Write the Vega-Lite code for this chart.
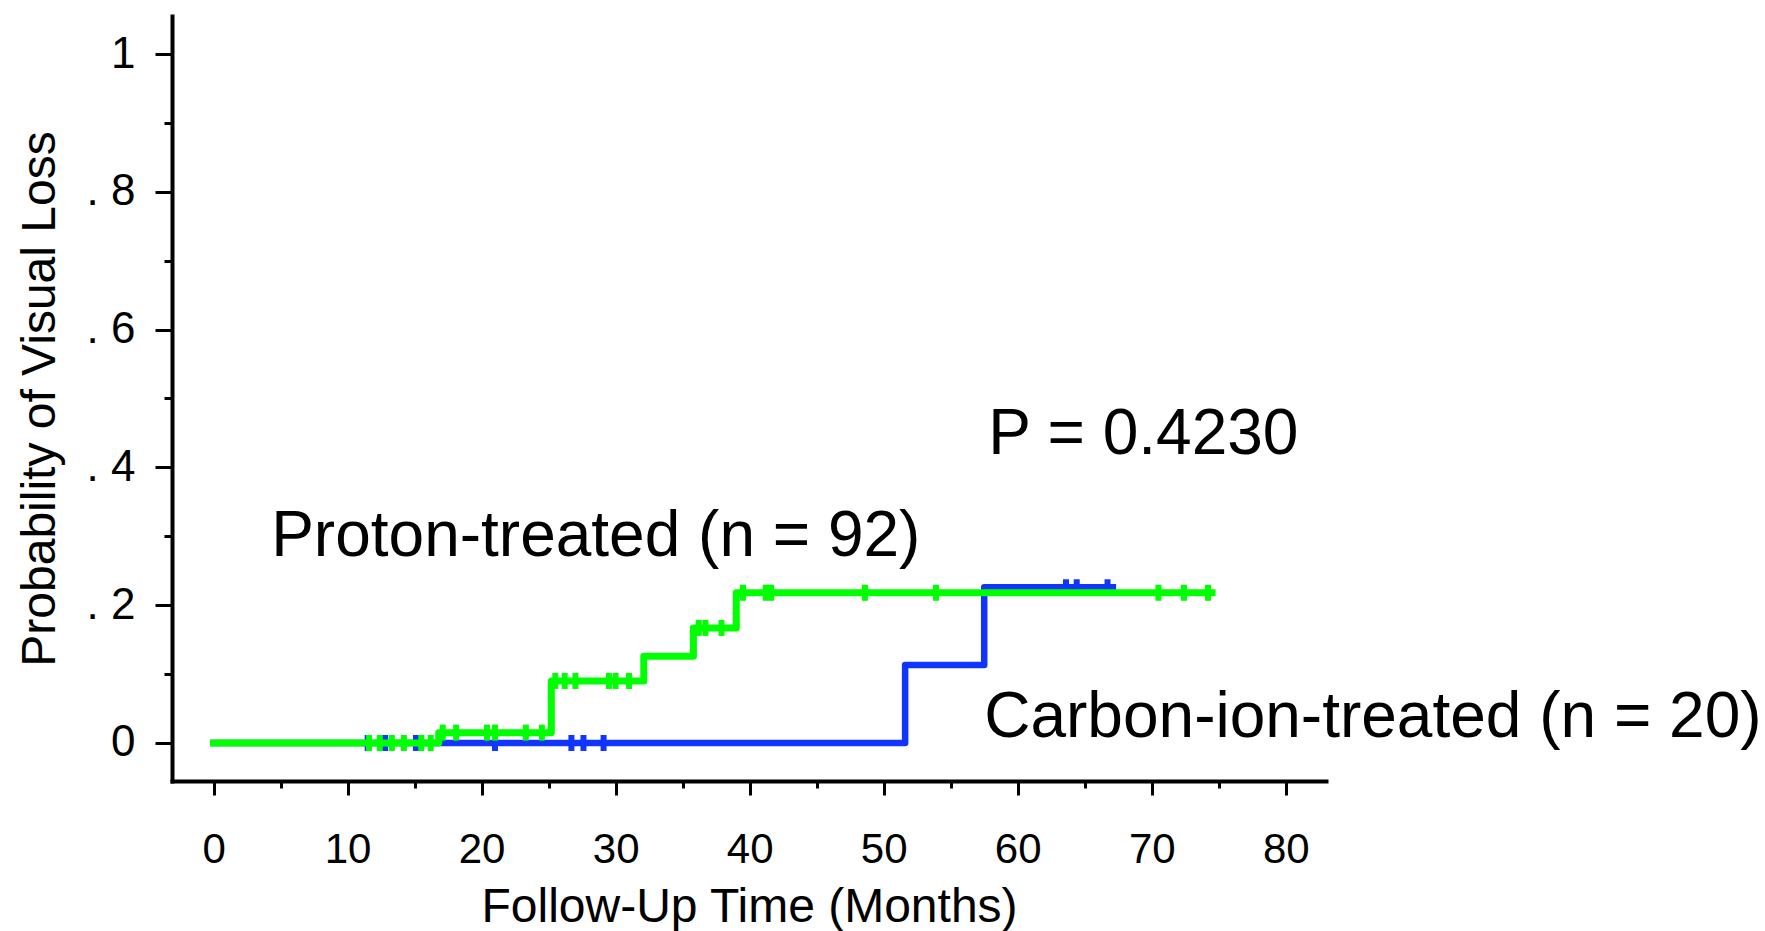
{
  "$schema": "https://vega.github.io/schema/vega-lite/v6.json",
  "autosize": "none",
  "width": 1154,
  "height": 765,
  "padding": {"left": 172, "top": 16, "right": 439, "bottom": 150},
  "background": "white",
  "config": {"view": {"stroke": null}},
  "datasets": {
    "steps": [
      {"group": "Carbon-ion", "t": 0, "p": 0},
      {"group": "Carbon-ion", "t": 51.6, "p": 0.113},
      {"group": "Carbon-ion", "t": 57.5, "p": 0.226},
      {"group": "Carbon-ion", "t": 67.1, "p": 0.226},
      {"group": "Proton", "t": 0, "p": 0},
      {"group": "Proton", "t": 16.8, "p": 0.015},
      {"group": "Proton", "t": 25.2, "p": 0.09},
      {"group": "Proton", "t": 32.1, "p": 0.126},
      {"group": "Proton", "t": 35.8, "p": 0.167},
      {"group": "Proton", "t": 39.0, "p": 0.218},
      {"group": "Proton", "t": 74.5, "p": 0.218}
    ],
    "censors": [
      {"group": "Carbon-ion", "t": 11.5, "p": 0},
      {"group": "Carbon-ion", "t": 12.8, "p": 0},
      {"group": "Carbon-ion", "t": 15.1, "p": 0},
      {"group": "Carbon-ion", "t": 21.0, "p": 0},
      {"group": "Carbon-ion", "t": 26.7, "p": 0},
      {"group": "Carbon-ion", "t": 27.6, "p": 0},
      {"group": "Carbon-ion", "t": 29.1, "p": 0},
      {"group": "Carbon-ion", "t": 63.6, "p": 0.226},
      {"group": "Carbon-ion", "t": 64.4, "p": 0.226},
      {"group": "Carbon-ion", "t": 66.7, "p": 0.226},
      {"group": "Proton", "t": 11.6, "p": 0},
      {"group": "Proton", "t": 12.4, "p": 0},
      {"group": "Proton", "t": 13.3, "p": 0},
      {"group": "Proton", "t": 14.2, "p": 0},
      {"group": "Proton", "t": 15.5, "p": 0},
      {"group": "Proton", "t": 16.2, "p": 0},
      {"group": "Proton", "t": 17.1, "p": 0.015},
      {"group": "Proton", "t": 18.1, "p": 0.015},
      {"group": "Proton", "t": 20.4, "p": 0.015},
      {"group": "Proton", "t": 21.0, "p": 0.015},
      {"group": "Proton", "t": 23.3, "p": 0.015},
      {"group": "Proton", "t": 24.5, "p": 0.015},
      {"group": "Proton", "t": 25.5, "p": 0.09},
      {"group": "Proton", "t": 26.2, "p": 0.09},
      {"group": "Proton", "t": 27.0, "p": 0.09},
      {"group": "Proton", "t": 29.5, "p": 0.09},
      {"group": "Proton", "t": 30.0, "p": 0.09},
      {"group": "Proton", "t": 31.0, "p": 0.09},
      {"group": "Proton", "t": 36.2, "p": 0.167},
      {"group": "Proton", "t": 36.7, "p": 0.167},
      {"group": "Proton", "t": 37.9, "p": 0.167},
      {"group": "Proton", "t": 39.5, "p": 0.218},
      {"group": "Proton", "t": 41.2, "p": 0.218},
      {"group": "Proton", "t": 41.6, "p": 0.218},
      {"group": "Proton", "t": 48.6, "p": 0.218},
      {"group": "Proton", "t": 53.9, "p": 0.218},
      {"group": "Proton", "t": 70.5, "p": 0.218},
      {"group": "Proton", "t": 72.4, "p": 0.218},
      {"group": "Proton", "t": 74.2, "p": 0.218}
    ],
    "notes": [
      {"label": "P = 0.4230", "x": 57.8, "y": 0.419},
      {"label": "Proton-treated (n = 92)", "x": 4.3, "y": 0.272},
      {"label": "Carbon-ion-treated (n = 20)", "x": 57.5, "y": 0.009}
    ]
  },
  "layer": [
    {
      "data": {"name": "steps"},
      "transform": [{"filter": "datum.group === 'Carbon-ion'"}],
      "mark": {"type": "line", "interpolate": "step-after", "strokeWidth": 6.5, "strokeJoin": "round", "strokeCap": "square", "color": "#1234FF"},
      "encoding": {
        "x": {
          "field": "t", "type": "quantitative",
          "scale": {"domain": [-3.1, 83], "nice": false, "zero": false},
          "axis": {
            "title": "Follow-Up Time (Months)",
            "values": [0, 5, 10, 15, 20, 25, 30, 35, 40, 45, 50, 55, 60, 65, 70, 75, 80],
            "labelExpr": "datum.value % 10 === 0 ? datum.label : ''",
            "grid": false,
            "domainWidth": 4, "domainColor": "black", "domainCap": "square",
            "tickColor": "black", "tickWidth": 3,
            "tickSize": {"condition": {"test": "datum.value % 10 === 0", "value": 14}, "value": 7},
            "labelFont": "Liberation Sans, Arial, sans-serif",
            "labelFontSize": 42, "labelColor": "black", "labelPadding": 34,
            "labelFlush": false, "labelOverlap": false,
            "titleFont": "Liberation Sans, Arial, sans-serif",
            "titleFontSize": 48, "titleFontWeight": "normal", "titleColor": "black", "titlePadding": 13
          }
        },
        "y": {
          "field": "p", "type": "quantitative",
          "scale": {"domain": [-0.0552, 1.0552], "nice": false, "zero": false},
          "axis": {
            "title": "Probability of Visual Loss",
            "values": [0, 0.1, 0.2, 0.3, 0.4, 0.5, 0.6, 0.7, 0.8, 0.9, 1],
            "labelExpr": "datum.value === 0 ? '0' : datum.value === 1 ? '1' : (round(datum.value*10) % 2 === 0 ? '. ' + round(datum.value*10) : '')",
            "grid": false,
            "domainWidth": 4, "domainColor": "black", "domainCap": "square",
            "tickColor": "black", "tickWidth": 3,
            "tickSize": {"condition": {"test": "round(datum.value*10) % 2 === 0", "value": 17}, "value": 8},
            "labelFont": "Liberation Sans, Arial, sans-serif",
            "labelFontSize": 44, "labelColor": "black", "labelPadding": 20,
            "labelFlush": false, "labelOverlap": false,
            "titleFont": "Liberation Sans, Arial, sans-serif",
            "titleFontSize": 48, "titleFontWeight": "normal", "titleColor": "black", "titlePadding": 22
          }
        }
      }
    },
    {
      "data": {"name": "censors"},
      "transform": [{"filter": "datum.group === 'Carbon-ion'"}],
      "mark": {"type": "tick", "orient": "vertical", "size": 16, "thickness": 6, "color": "#1234FF", "opacity": 1},
      "encoding": {
        "x": {"field": "t", "type": "quantitative"},
        "y": {"field": "p", "type": "quantitative"}
      }
    },
    {
      "data": {"name": "steps"},
      "transform": [{"filter": "datum.group === 'Proton'"}],
      "mark": {"type": "line", "interpolate": "step-after", "strokeWidth": 7, "strokeJoin": "round", "strokeCap": "square", "color": "#00FF00"},
      "encoding": {
        "x": {"field": "t", "type": "quantitative"},
        "y": {"field": "p", "type": "quantitative"}
      }
    },
    {
      "data": {"name": "censors"},
      "transform": [{"filter": "datum.group === 'Proton'"}],
      "mark": {"type": "tick", "orient": "vertical", "size": 16, "thickness": 6, "color": "#00FF00", "opacity": 1},
      "encoding": {
        "x": {"field": "t", "type": "quantitative"},
        "y": {"field": "p", "type": "quantitative"}
      }
    },
    {
      "data": {"name": "notes"},
      "mark": {"type": "text", "align": "left", "baseline": "alphabetic", "font": "Liberation Sans, Arial, sans-serif", "fontSize": 64, "color": "black"},
      "encoding": {
        "x": {"field": "x", "type": "quantitative"},
        "y": {"field": "y", "type": "quantitative"},
        "text": {"field": "label", "type": "nominal"}
      }
    }
  ]
}
